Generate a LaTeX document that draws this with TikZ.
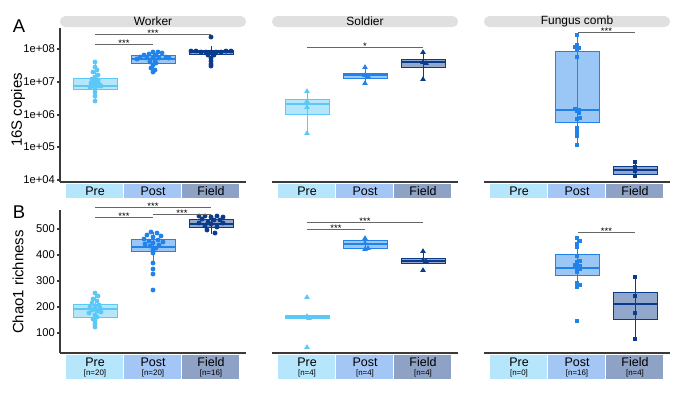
\documentclass[tikz,border=0pt]{standalone}
\usepackage{fontspec}
\setmainfont{Liberation Sans}
\usepackage{xcolor}
\usepackage{tikz}
\definecolor{pre}{HTML}{5BC8F7}
\definecolor{post}{HTML}{2183EA}
\definecolor{fld}{HTML}{0B3C8C}
\definecolor{catpre}{HTML}{B5E6FB}
\definecolor{catpost}{HTML}{A3C6F5}
\definecolor{catfld}{HTML}{8DA2C4}
\definecolor{stripgray}{HTML}{E0E0E0}
\definecolor{axisgray}{HTML}{3A3A3A}
\definecolor{brkgray}{HTML}{666666}
\tikzset{
  axis/.style={draw=axisgray, line width=0.6pt},
  brk/.style={draw=brkgray, line width=0.5pt},
  stars/.style={font=\fontsize{5.4}{6}\selectfont, inner sep=0pt, anchor=base, yshift=-1.6pt},
  whisk/.style={draw=#1, line width=0.5pt},
  boxs/.style={draw=#1, fill=#1, fill opacity=0.45, line width=0.5pt},
  med/.style={draw=#1, line width=0.8pt},
  lett/.style={font=\fontsize{10.5}{12}\selectfont},
  ttl/.style={font=\fontsize{8.5}{10}\selectfont},
  tick/.style={anchor=east, font=\fontsize{6.4}{7}\selectfont, inner sep=1pt},
  striplab/.style={font=\fontsize{6.8}{8}\selectfont, inner sep=0pt},
  cat/.style={font=\fontsize{7.1}{8}\selectfont, inner sep=0pt},
  nlab/.style={font=\fontsize{4.5}{5}\selectfont, inner sep=0pt},
}

\begin{document}
\begin{tikzpicture}[x=0.02cm, y=-0.02cm]
  \useasboundingbox (0,0) rectangle (685,400);
  % panel letters and axis titles
  \node[lett] (la) at (19,26) {A};
  \node[lett] (lb) at (19,212) {B};
  \node[ttl, rotate=90] (ya) at (18,110) {16S copies};
  \node[ttl, rotate=90] (yb) at (18,282) {Chao1 richness};
  % strips, x axes and group boxes
  \foreach \p/\name in {60/Worker, 272/Soldier, 484/Fungus comb}{
    \fill[stripgray, rounded corners=3pt] (\p,16) rectangle (\p+186,27);
    \node[striplab] (s\p) at (\p+93,21.5) {\name};
    \draw[axis] (\p,182) -- (\p+186,182);
    \draw[axis] (\p,353) -- (\p+186,353);
    \foreach \dx/\g/\c in {35/Pre/catpre, 93/Post/catpost, 151/Field/catfld}{
      \fill[\c] (\p+\dx-29,184) rectangle (\p+\dx+28,198);
      \node[cat] (ca\p\g) at (\p+\dx,191) {\g};
      \fill[\c] (\p+\dx-29,355) rectangle (\p+\dx+28,379);
      \node[cat] (cb\p\g) at (\p+\dx,362.5) {\g};
    }
  }
  \foreach \x/\n in {95/20,153/20,211/16,307/4,365/4,423/4,519/0,577/16,635/4}
    \node[nlab] (n\x) at (\x,373.5) {[n=\n]};
  % y axes
  \draw[axis] (60,28) -- (60,182);
  \draw[axis] (60,210) -- (60,353);
  \foreach \y/\t in {49/08,82/07,115/06,147/05,180/04}{
    \draw[axis] (57,\y) -- (60,\y);
    \node[tick] (ta\t) at (57,\y) {1e+\t};
  }
  \foreach \y/\t in {229/500,255/400,281/300,307/200,333/100}{
    \draw[axis] (57,\y) -- (60,\y);
    \node[tick] (tb\t) at (57,\y) {\t};
  }
  % boxes: centre/top/median/bottom/whisker top/whisker bottom/colour
  \foreach \cx/\t/\m/\b/\wt/\wb/\c in {
      95/78/86/89/62/101/pre, 153/55/59/63/52/72/post, 211/50/52/54/46/66/fld,
      307/99/104/114/90/133/pre, 365/73/75/78/67/83/post, 423/59/62/67/52/79/fld,
      577/51/110/122/35/145/post, 635/166/170/174/162/177/fld,
      95/304/309/317/293/327/pre, 153/239/247/251/232/263/post, 211/219/224/227/216/234/fld,
      307/315/317/318/315/318/pre, 365/240/244/248/238/249/post, 423/258/261/263/251/263/fld,
      577/254/268/275/238/285/post, 635/292/304/319/277/339/fld}{
    \draw[whisk=\c] (\cx,\wt) -- (\cx,\wb);
    \draw[boxs=\c] (\cx-22,\t) rectangle (\cx+22,\b);
    \draw[med=\c] (\cx-22,\m) -- (\cx+22,\m);
  }
  % worker points
  \foreach \cx/\c/\pts in {
      95/pre/{0/62,0/67,2/70,-2/72,3/75,0/77,-3/79,3/80,0/81,-4/83,4/84,0/84,-2/86,2/86,6/86,-5/87,0/88,0/92,0/96,0/101},
      153/post/{0/52,5/52,-4/54,9/53,-9/55,3/55,-13/57,13/57,0/57,-6/58,6/58,16/58,-16/59,2/60,-3/62,3/63,0/65,-2/68,2/70,0/72},
      211/fld/{0/37,-20/51,-15/51,-10/52,-5/52,0/52,5/52,10/52,15/51,20/51,-3/55,3/55,0/58,0/61,0/64,0/66},
      95/pre/{0/293,3/296,-2/299,2/301,-3/303,4/305,0/306,-5/307,5/308,0/309,-3/310,3/311,6/312,-6/313,0/315,2/317,-2/319,0/321,0/324,0/327},
      153/post/{-2/232,4/233,-6/235,8/236,0/237,-9/239,5/240,-4/241,10/242,0/243,-8/244,6/245,-3/246,3/248,0/250,0/253,0/263,0/269,0/274,0/290},
      211/fld/{-12/216,-6/216,0/217,6/216,12/217,-9/219,3/220,9/220,-3/222,-12/223,12/223,0/224,-6/226,6/227,-4/230,4/233}}
    \foreach \dx/\y in \pts
      \fill[\c] (\cx+\dx,\y) circle (1.4pt);
  % soldier points
  \foreach \cx/\c/\pts in {
      307/pre/{0/91,0/101,0/107,0/133}, 365/post/{0/67,0/75,3/76,0/83}, 423/fld/{0/52,0/62,3/63,0/79},
      307/pre/{0/297,0/316,2/318,0/347}, 365/post/{0/238,0/243,3/248,0/249}, 423/fld/{0/251,0/260,3/261,0/270}}
    \foreach \dx/\y in \pts
      \fill[\c] (\cx+\dx,\y) ++(0,-2.8) -- ++(2.8,4.6) -- ++(-5.6,0) -- cycle;
  % fungus comb points
  \foreach \cx/\c/\pts in {
      577/post/{0/35,0/45,-2/47,2/48,0/50,0/57,-2/109,2/110,0/111,2/113,3/118,0/119,0/128,0/132,0/136,0/145},
      635/fld/{0/162,0/167,0/171,0/176},
      577/post/{0/238,3/241,0/244,0/247,0/256,3/261,0/262,-2/265,3/266,0/268,3/269,0/272,0/283,3/285,0/287,0/321},
      635/fld/{0/277,0/296,0/313,0/339}}
    \foreach \dx/\y in \pts
      \fill[\c] (\cx+\dx-2.1,\y-2.1) rectangle (\cx+\dx+2.1,\y+2.1);
  % significance bars
  \draw[brk] (95,44) -- (153,44) node[stars, midway] (sg1) {***};
  \draw[brk] (95,34) -- (211,34) node[stars, midway] (sg2) {***};
  \draw[brk] (307,47) -- (423,47) node[stars, midway] (sg3) {*};
  \draw[brk] (578,32) -- (635,32) node[stars, midway] (sg4) {***};
  \draw[brk] (95,217) -- (153,217) node[stars, midway] (sg5) {***};
  \draw[brk] (153,214) -- (211,214) node[stars, midway] (sg6) {***};
  \draw[brk] (95,207) -- (211,207) node[stars, midway] (sg7) {***};
  \draw[brk] (307,229) -- (365,229) node[stars, midway] (sg8) {***};
  \draw[brk] (307,222) -- (423,222) node[stars, midway] (sg9) {***};
  \draw[brk] (578,232) -- (635,232) node[stars, midway] (sg10) {***};
\end{tikzpicture}
\end{document}
